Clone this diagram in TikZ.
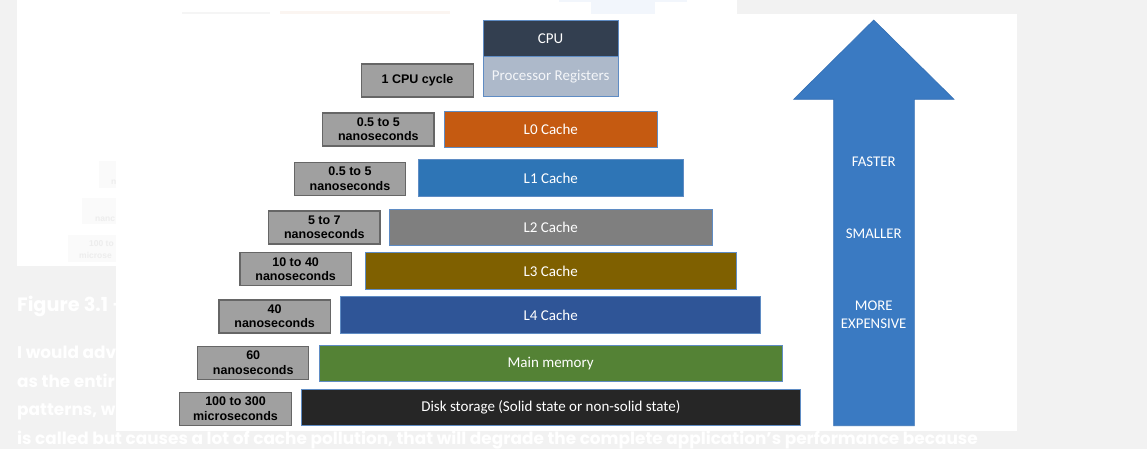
\documentclass[tikz,border=0pt]{standalone}
\usepackage{fontspec}
\setmainfont{Carlito}
\newfontfamily\labfont{Liberation Sans}
\newfontfamily\pagefont{Poppins}
\definecolor{pagebg}{HTML}{F2F2F2}
\definecolor{cpucol}{HTML}{333F50}
\definecolor{regcol}{HTML}{ADB9CA}
\definecolor{regtxt}{HTML}{F4F6F9}
\definecolor{lzcol}{HTML}{C55A11}
\definecolor{lonecol}{HTML}{2E75B6}
\definecolor{ltwocol}{HTML}{7F7F7F}
\definecolor{lthreecol}{HTML}{7F6000}
\definecolor{lfourcol}{HTML}{2F5597}
\definecolor{memcol}{HTML}{548235}
\definecolor{diskcol}{HTML}{262626}
\definecolor{boxedge}{HTML}{5F8CC4}
\definecolor{labfill}{HTML}{A0A0A0}
\definecolor{labedge}{HTML}{666666}
\definecolor{arrowcol}{HTML}{3A7AC2}
\definecolor{arrowedge}{HTML}{3570B5}
\definecolor{ghostfill}{HTML}{FAFAFA}
\definecolor{ghosttxt}{HTML}{EDEDED}
\definecolor{ghostgray}{HTML}{F5F5F5}
\definecolor{ghostpeach}{HTML}{FBF5F1}
\definecolor{ghostblue}{HTML}{F2F6FC}
\begin{document}
\begin{tikzpicture}[x=1pt,y=-1pt,
  cache/.style={draw=boxedge, line width=0.9pt, text=white, inner sep=0pt,
    font=\fontsize{15}{18}\selectfont},
  lab/.style={draw=labedge, fill=labfill, line width=1.1pt, text=black,
    font=\labfont\bfseries\fontsize{12.5}{14.3}\selectfont, align=center,
    inner sep=0pt, minimum width=111.3pt, minimum height=33pt},
  arrtxt/.style={text=white, align=center, inner sep=0pt,
    font=\fontsize{14.8}{18.3}\selectfont},
  pagetxt/.style={text=white, anchor=base west, inner sep=0pt,
    font=\pagefont\bfseries\fontsize{16.9}{20}\selectfont},
  ghostbox/.style={fill=ghostfill, draw=none},
  ghostlab/.style={text=ghosttxt, inner sep=0pt, anchor=base west,
    font=\labfont\bfseries\fontsize{8.5}{11}\selectfont}
  ]
\useasboundingbox (0,0) rectangle (1147,449);
% page background
\fill[pagebg] (0,0) rectangle (1147,449);
% faint page text behind the diagram
\node[pagetxt, font=\pagefont\bfseries\fontsize{19.3}{22}\selectfont] (gfig) at (17,311) {Figure 3.1 –};
\node[pagetxt] (gla) at (17,358.5) {I would adv};
\node[pagetxt] (glb) at (17,387.2) {as the entir};
\node[pagetxt] (glc) at (17,415.8) {patterns, w};
\node[pagetxt] (gld) at (17,444) {is called but causes a lot of cache pollution, that will degrade the complete application’s performance because};
% faint earlier figure behind
\fill[white] (17,0) rectangle (737,14);
\fill[white] (17,0) rectangle (116,266);
\fill[ghostgray] (182,12.5) rectangle (270,15);
\fill[ghostpeach] (280,11.5) rectangle (450,15);
\fill[ghostblue] (591,0) rectangle (655,14);
\fill[ghostblue] (559,0) rectangle (687,2);
\fill[ghostbox] (99,161) rectangle (130,188);
\fill[ghostbox] (82,198) rectangle (130,224);
\fill[ghostbox] (68,235) rectangle (130,262);
\node[ghostlab] (gna) at (111,184) {n};
\node[ghostlab] (gnb) at (95,221) {nanc};
\node[ghostlab] (gnc) at (89,246) {100 to};
\node[ghostlab] (gnd) at (79,258) {microse};
% main panel
\fill[white] (116,14) rectangle (1017,431);
% arrow
\filldraw[fill=arrowcol, draw=arrowedge, line width=0.6pt]
  (833.7,425.7) -- (833.7,99.3) -- (793.7,99.3) -- (873.7,20) -- (954,99.3)
  -- (914.3,99.3) -- (914.3,425.7) -- cycle;
\node[arrtxt] (fast) at (873.7,161.7) {FASTER};
\node[arrtxt] (small) at (873.7,233.3) {SMALLER};
\node[arrtxt] (exp) at (873.7,315) {MORE\\EXPENSIVE};
% hierarchy boxes
\node[cache, fill=cpucol, minimum width=134.7pt, minimum height=36.7pt] (cpu) at (550.65,38.35) {CPU};
\node[cache, fill=regcol, text=regtxt, minimum width=134.7pt, minimum height=39.3pt] (reg) at (550.65,76.35) {Processor Registers};
\node[cache, fill=lzcol, minimum width=213pt, minimum height=36pt] (lzero) at (550.8,129) {L0 Cache};
\node[cache, fill=lonecol, minimum width=265pt, minimum height=37.4pt] (lone) at (550.8,178) {L1 Cache};
\node[cache, fill=ltwocol, minimum width=323.3pt, minimum height=36pt] (ltwo) at (550.65,227) {L2 Cache};
\node[cache, fill=lthreecol, minimum width=370.7pt, minimum height=36.3pt] (lthree) at (550.65,270.85) {L3 Cache};
\node[cache, fill=lfourcol, minimum width=420pt, minimum height=37.2pt] (lfour) at (550.7,314.9) {L4 Cache};
\node[cache, fill=memcol, minimum width=463.3pt, minimum height=36.4pt] (mem) at (550.65,363.5) {Main memory};
\node[cache, fill=diskcol, minimum width=498.3pt, minimum height=36.7pt] (disk) at (550.85,407.35) {Disk storage (Solid state or non-solid state)};
% latency labels
\node[lab] (tcpu) at (417.5,80.5) {1 CPU cycle};
\node[lab] (tzero) at (378.35,129.5) {0.5 to 5\\nanoseconds};
\node[lab] (tone) at (350,178.65) {0.5 to 5\\nanoseconds};
\node[lab] (ttwo) at (324.35,227.5) {5 to 7\\nanoseconds};
\node[lab] (tthree) at (295.65,269.35) {10 to 40\\nanoseconds};
\node[lab] (tfour) at (274.65,316.5) {40\\nanoseconds};
\node[lab] (tmem) at (253.2,362.65) {60\\nanoseconds};
\node[lab] (tdisk) at (235.5,408.8) {100 to 300\\microseconds};
\end{tikzpicture}
\end{document}
